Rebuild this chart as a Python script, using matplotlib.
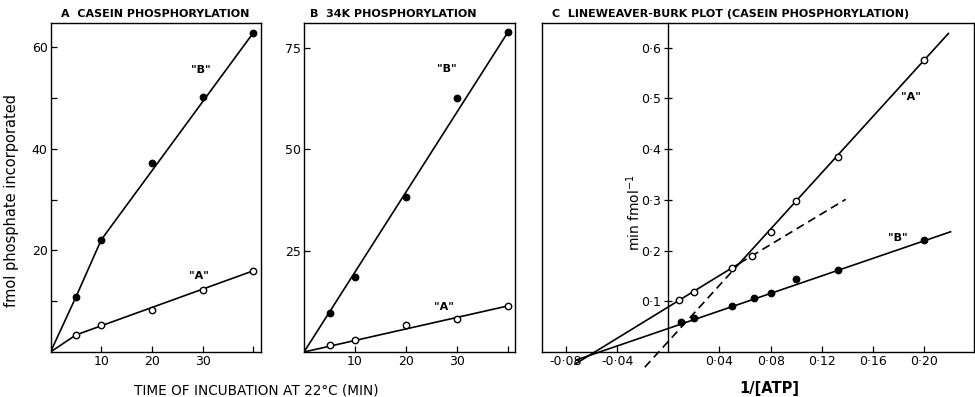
import matplotlib
matplotlib.use("Agg")
import matplotlib.pyplot as plt

# Panel A: casein phosphorylation (fmol vs min)
time_a = [5, 10, 20, 30, 40]
casein_b = [10.8, 22.1, 37.3, 50.2, 62.9]
casein_a = [3.35, 5.3, 8.3, 12.2, 16.0]
casein_b_line_x = [0, 5, 10, 40]
casein_b_line_y = [0, 10.8, 22.1, 62.9]
casein_a_line_x = [0, 5, 40]
casein_a_line_y = [0, 3.35, 16.0]

# Panel B: 34K phosphorylation
time_b = [5, 10, 20, 30, 40]
k34_b = [9.6, 18.6, 38.3, 62.6, 79.1]
k34_a = [1.7, 3.0, 6.7, 8.2, 11.4]
k34_b_line_x = [0, 40]
k34_b_line_y = [0, 79.1]
k34_a_line_x = [0, 40]
k34_a_line_y = [0, 11.4]

# Panel C: Lineweaver-Burk (1/[ATP] vs min/fmol)
inv_atp_a = [0.0085, 0.02, 0.05, 0.0655, 0.08, 0.1, 0.133, 0.2]
inv_v_a = [0.1026, 0.118, 0.166, 0.189, 0.237, 0.298, 0.384, 0.576]
inv_atp_b = [0.01, 0.02, 0.05, 0.0667, 0.08, 0.1, 0.133, 0.2]
inv_v_b = [0.0586, 0.068, 0.091, 0.107, 0.116, 0.144, 0.162, 0.221]
lb_a_low_x = [-0.073, 0.0557]
lb_a_low_y = [-0.024, 0.175]
lb_a_low_ext_x = [0.0557, 0.1387]
lb_a_low_ext_y = [0.175, 0.301]
lb_a_up_x = [0.0557, 0.219]
lb_a_up_y = [0.175, 0.628]
lb_a_up_ext_x = [-0.0184, 0.0557]
lb_a_up_ext_y = [-0.030, 0.175]
lb_b_x = [-0.0723, 0.2207]
lb_b_y = [-0.016, 0.237]

c_xticks = [-0.08, -0.04, 0.04, 0.08, 0.12, 0.16, 0.20]
c_xticklabels = ["-0·08", "-0·04", "0·04", "0·08", "0·12", "0·16", "0·20"]
c_yticks = [0.1, 0.2, 0.3, 0.4, 0.5, 0.6]
c_yticklabels = ["0·1", "0·2", "0·3", "0·4", "0·5", "0·6"]

W, H = 975, 397
TICK_FS = 9
TITLE_FS = 8.0
LABEL_FS = 8
LW = 1.2
DASH = (0, (5, 3))


def ax_rect(left, right, top, bottom):
    return [left / W, 1 - bottom / H, (right - left) / W, (bottom - top) / H]


def style_ticks(ax):
    ax.tick_params(direction="in", length=4, width=0.9, labelsize=TICK_FS, pad=2)
    for sp in ax.spines.values():
        sp.set_linewidth(1.0)


def filled(ax, x, y):
    ax.plot(x, y, "o", color="black", markersize=4.6, clip_on=False, zorder=3)


def hollow(ax, x, y):
    ax.plot(x, y, "o", markerfacecolor="white", markeredgecolor="black",
            markeredgewidth=1.0, markersize=4.6, clip_on=False, zorder=3)


plt.rcParams["font.family"] = ["DejaVu Sans"]
fig = plt.figure(figsize=(W / 100, H / 100), dpi=100)

# ---- Panel A
ax1 = fig.add_axes(ax_rect(50.5, 261, 23, 352))
ax1.plot(casein_b_line_x, casein_b_line_y, color="black", linewidth=LW)
ax1.plot(casein_a_line_x, casein_a_line_y, color="black", linewidth=LW)
filled(ax1, time_a, casein_b)
hollow(ax1, time_a, casein_a)
ax1.set_xlim(0, 41.5)
ax1.set_ylim(0, 64.8)
ax1.set_xticks([10, 20, 30, 40])
ax1.set_xticklabels(["10", "20", "30", ""])
ax1.set_yticks([10, 20, 30, 40, 50, 60])
ax1.set_yticklabels(["", "20", "", "40", "", "60"])
style_ticks(ax1)
ax1.text(29.7, 55.6, '"B"', fontsize=LABEL_FS, fontweight="bold", ha="center", va="center")
ax1.text(29.3, 15.0, '"A"', fontsize=LABEL_FS, fontweight="bold", ha="center", va="center")
ax1.set_ylabel("fmol phosphate incorporated", fontsize=10.5)
ax1.yaxis.set_label_coords(-0.148, 0.46)
ax1.text(10.5 / 210.5, 1.012, "A  CASEIN PHOSPHORYLATION", transform=ax1.transAxes,
         fontsize=TITLE_FS, fontweight="bold", ha="left", va="bottom")

# ---- Panel B
ax2 = fig.add_axes(ax_rect(304, 515, 23, 352))
ax2.plot(k34_b_line_x, k34_b_line_y, color="black", linewidth=LW)
ax2.plot(k34_a_line_x, k34_a_line_y, color="black", linewidth=LW)
filled(ax2, time_b, k34_b)
hollow(ax2, time_b, k34_a)
ax2.set_xlim(0, 41.3)
ax2.set_ylim(0, 81.2)
ax2.set_xticks([10, 20, 30, 40])
ax2.set_xticklabels(["10", "20", "30", ""])
ax2.set_yticks([25, 50, 75])
ax2.set_yticklabels(["25", "50", "75"])
style_ticks(ax2)
ax2.text(28.0, 69.8, '"B"', fontsize=LABEL_FS, fontweight="bold", ha="center", va="center")
ax2.text(27.3, 11.0, '"A"', fontsize=LABEL_FS, fontweight="bold", ha="center", va="center")
ax2.text(6 / 211, 1.012, "B  34K PHOSPHORYLATION", transform=ax2.transAxes,
         fontsize=TITLE_FS, fontweight="bold", ha="left", va="bottom")

fig.text(256 / W, 1 - 390 / H, "TIME OF INCUBATION AT 22°C (MIN)",
         fontsize=9.8, ha="center", va="center")

# ---- Panel C
ax3 = fig.add_axes(ax_rect(541.7, 974, 23.3, 352))
ax3.plot(lb_a_low_x, lb_a_low_y, color="black", linewidth=LW, clip_on=False)
ax3.plot(lb_a_up_x, lb_a_up_y, color="black", linewidth=LW, clip_on=False)
ax3.plot(lb_b_x, lb_b_y, color="black", linewidth=LW, clip_on=False)
ax3.plot(lb_a_low_ext_x, lb_a_low_ext_y, color="black", linewidth=LW,
         linestyle=DASH, clip_on=False)
ax3.plot(lb_a_up_ext_x, lb_a_up_ext_y, color="black", linewidth=LW,
         linestyle=DASH, clip_on=False)
filled(ax3, inv_atp_b, inv_v_b)
hollow(ax3, inv_atp_a, inv_v_a)
ax3.set_xlim(-0.099, 0.239)
ax3.set_ylim(0, 0.648)
ax3.spines["left"].set_position(("data", 0))
ax3.plot([0, 0], [0, 1], transform=ax3.transAxes, color="black", linewidth=1.0,
         clip_on=False)
ax3.set_xticks(c_xticks)
ax3.set_xticklabels(c_xticklabels)
ax3.set_yticks(c_yticks)
ax3.set_yticklabels(c_yticklabels)
style_ticks(ax3)
ax3.tick_params(axis="y", direction="inout", length=6)
ax3.text(0.19, 0.502, '"A"', fontsize=LABEL_FS, fontweight="bold", ha="center", va="center")
ax3.text(0.1795, 0.224, '"B"', fontsize=LABEL_FS, fontweight="bold", ha="center", va="center")
ax3.text(-0.027, 0.274, "min fmol$^{-1}$", fontsize=10, rotation=90,
         ha="center", va="center")
ax3.text(769 / W, 1 - 388 / H, "1/[ATP]", transform=fig.transFigure,
         fontsize=10.5, fontweight="bold", ha="center", va="center")
ax3.text(10 / 432.3, 1.012, "C  LINEWEAVER-BURK PLOT (CASEIN PHOSPHORYLATION)",
         transform=ax3.transAxes, fontsize=TITLE_FS, fontweight="bold",
         ha="left", va="bottom")

fig.savefig("out.png", dpi=100)
